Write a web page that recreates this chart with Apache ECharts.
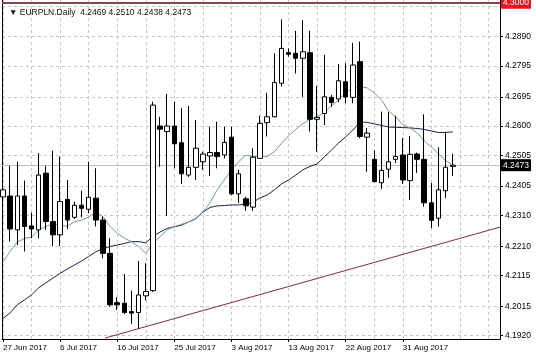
<!DOCTYPE html>
<html><head><meta charset="utf-8">
<script src="https://cdn.jsdelivr.net/npm/echarts@6/dist/echarts.min.js"></script>
<style>html,body{margin:0;padding:0;background:#fff}#c{width:536px;height:357px}</style>
</head><body><div id="c"></div>
<script>
const symbolName = 'EURPLN.Daily';
const dates = ['27 Jun 2017','28 Jun 2017','29 Jun 2017','30 Jun 2017','2 Jul 2017','3 Jul 2017','4 Jul 2017','5 Jul 2017','6 Jul 2017','7 Jul 2017',
'9 Jul 2017','10 Jul 2017','11 Jul 2017','12 Jul 2017','13 Jul 2017','14 Jul 2017','16 Jul 2017','17 Jul 2017','18 Jul 2017','19 Jul 2017',
'20 Jul 2017','21 Jul 2017','23 Jul 2017','24 Jul 2017','25 Jul 2017','26 Jul 2017','27 Jul 2017','28 Jul 2017','30 Jul 2017','31 Jul 2017',
'1 Aug 2017','2 Aug 2017','3 Aug 2017','4 Aug 2017','6 Aug 2017','7 Aug 2017','8 Aug 2017','9 Aug 2017','10 Aug 2017','11 Aug 2017',
'13 Aug 2017','14 Aug 2017','15 Aug 2017','16 Aug 2017','17 Aug 2017','18 Aug 2017','20 Aug 2017','21 Aug 2017','22 Aug 2017','23 Aug 2017',
'24 Aug 2017','25 Aug 2017','27 Aug 2017','28 Aug 2017','29 Aug 2017','30 Aug 2017','31 Aug 2017','1 Sep 2017','3 Sep 2017','4 Sep 2017',
'5 Sep 2017','6 Sep 2017','7 Sep 2017','8 Sep 2017'];
const opens = [4.2370,4.2373,4.2263,4.2373,4.2276,4.2263,4.2447,4.2290,4.2247,4.2362,
4.2304,4.2343,4.2330,4.2366,4.2295,4.2187,4.2027,4.2025,4.1998,4.1995,
4.2049,4.2066,4.2600,4.2582,4.2600,4.2546,4.2441,4.2466,4.2484,4.2503,
4.2514,4.2506,4.2564,4.2380,4.2364,4.2337,4.2495,4.2611,4.2630,4.2739,
4.2838,4.2836,4.2820,4.2838,4.2622,4.2641,4.2693,4.2688,4.2744,4.2693,
4.2809,4.2564,4.2492,4.2416,4.2460,4.2492,4.2506,4.2423,4.2509,4.2492,
4.2351,4.2301,4.2390,4.2469];
const closes = [4.2393,4.2266,4.2373,4.2274,4.2266,4.2441,4.2290,4.2247,4.2355,4.2295,
4.2343,4.2333,4.2369,4.2295,4.2187,4.2020,4.2020,4.1995,4.1993,4.2052,
4.2063,4.2668,4.2590,4.2600,4.2542,4.2445,4.2466,4.2528,4.2509,4.2514,
4.2501,4.2547,4.2380,4.2445,4.2341,4.2499,4.2609,4.2630,4.2741,4.2852,
4.2833,4.2820,4.2841,4.2622,4.2628,4.2695,4.2676,4.2747,4.2694,4.2798,
4.2566,4.2577,4.2420,4.2456,4.2484,4.2501,4.2425,4.2508,4.2492,4.2351,
4.2294,4.2393,4.2466,4.2473];
const lows = [4.2344,4.2225,4.2214,4.2193,4.2236,4.2236,4.2263,4.2211,4.2211,4.2265,
4.2298,4.2304,4.2317,4.2274,4.2171,4.2014,4.2003,4.1990,4.1958,4.1942,
4.2034,4.2062,4.2468,4.2308,4.2463,4.2412,4.2435,4.2425,4.2458,4.2438,
4.2463,4.2495,4.2375,4.2350,4.2325,4.2325,4.2495,4.2566,4.2628,4.2728,
4.2825,4.2771,4.2695,4.2582,4.2517,4.2603,4.2663,4.2678,4.2674,4.2674,
4.2560,4.2452,4.2416,4.2396,4.2432,4.2480,4.2412,4.2360,4.2448,4.2338,
4.2269,4.2274,4.2366,4.2438];
const highs = [4.2409,4.2471,4.2484,4.2423,4.2319,4.2512,4.2471,4.2520,4.2501,4.2425,
4.2355,4.2390,4.2484,4.2463,4.2306,4.2236,4.2045,4.2120,4.2066,4.2162,
4.2155,4.2679,4.2630,4.2704,4.2679,4.2658,4.2665,4.2620,4.2517,4.2598,
4.2614,4.2598,4.2598,4.2458,4.2371,4.2528,4.2633,4.2708,4.2836,4.2946,
4.2852,4.2909,4.2944,4.2909,4.2730,4.2831,4.2701,4.2801,4.2804,4.2870,
4.2874,4.2594,4.2521,4.2647,4.2646,4.2633,4.2561,4.2568,4.2514,4.2638,
4.2415,4.2531,4.2582,4.2510];
const maFast = [4.2159,4.2193,4.2224,4.2235,4.2240,4.2263,4.2274,4.2282,4.2279,4.2274,
4.2290,4.2294,4.2305,4.2321,4.2306,4.2274,4.2252,4.2236,4.2225,4.2209,
4.2187,4.2220,4.2241,4.2263,4.2274,4.2281,4.2289,4.2299,4.2322,4.2351,
4.2393,4.2425,4.2458,4.2484,4.2505,4.2501,4.2501,4.2501,4.2516,4.2544,
4.2568,4.2589,4.2608,4.2621,4.2629,4.2644,4.2665,4.2685,4.2709,4.2724,
4.2727,4.2724,4.2707,4.2685,4.2649,4.2630,4.2604,4.2594,4.2578,4.2552,
4.2532,4.2509,4.2488,4.2474];
const maSlow = [4.1976,4.1994,4.2020,4.2036,4.2052,4.2075,4.2091,4.2107,4.2122,4.2136,
4.2149,4.2162,4.2177,4.2192,4.2203,4.2209,4.2214,4.2219,4.2225,4.2225,
4.2221,4.2242,4.2256,4.2268,4.2273,4.2278,4.2289,4.2299,4.2321,4.2336,
4.2341,4.2342,4.2344,4.2344,4.2347,4.2352,4.2367,4.2376,4.2393,4.2412,
4.2425,4.2441,4.2458,4.2469,4.2477,4.2500,4.2522,4.2545,4.2565,4.2587,
4.2613,4.2612,4.2607,4.2602,4.2597,4.2596,4.2595,4.2594,4.2592,4.2589,
4.2584,4.2579,4.2579,4.2581];
const yTickLabels = [4.1920,4.2015,4.2115,4.2210,4.2310,4.2405,4.2505,4.2600,4.2695,4.2795,4.2890,4.2990];
const xLabelIdx = [0,8,16,24,32,40,48,56];
const levelLine = 4.3000;
const trendX = [14.3, 69.6];
const trendY = [4.1912, 4.2272];

const FONT = 'Liberation Sans';
const yMin = 4.1909, yMax = 4.3009;
const xMin = -0.14, xMax = 69.61;
const gridX = [];
for (let k = 0; k <= 68; k += 4) gridX.push(k);
const n = opens.length, last = n - 1;
const candleData = opens.map((o, i) => [i, o, closes[i], lows[i], highs[i]]);
const gridLine = {show: true, lineStyle: {color: '#c6c6c6', type: [3, 3], width: 1}};

const chart = echarts.init(document.getElementById('c'));
chart.setOption({
  animation: false,
  backgroundColor: '#ffffff',
  title: {
    text: '\u25BC ' + symbolName + '  ' + [opens[last], highs[last], lows[last], closes[last]].map(v => v.toFixed(4)).join(' '),
    left: 4, top: 3,
    textStyle: {fontFamily: FONT, fontSize: 8.5, fontWeight: 'normal', color: '#111'}
  },
  grid: {left: 2, right: 36, top: 0, bottom: 18},
  xAxis: [
    {type: 'value', min: xMin, max: xMax, position: 'bottom',
     axisLine: {show: true, onZero: false, lineStyle: {color: '#000', width: 1}},
     axisTick: {show: true, length: 3, customValues: xLabelIdx, lineStyle: {color: '#000'}},
     axisLabel: {customValues: xLabelIdx, formatter: v => dates[Math.round(v)], align: 'left', margin: 5,
                 fontFamily: FONT, fontSize: 8, color: '#000'},
     splitLine: {show: false}},
    {type: 'value', min: xMin, max: xMax, position: 'top',
     axisLine: {show: false, onZero: false}, axisTick: {show: false, customValues: gridX},
     axisLabel: {show: false}, splitLine: gridLine}
  ],
  yAxis: [
    {type: 'value', min: yMin, max: yMax, position: 'right',
     axisLine: {show: true, onZero: false, lineStyle: {color: '#000', width: 1}},
     axisTick: {show: true, length: 3, customValues: yTickLabels, lineStyle: {color: '#000'}},
     axisLabel: {customValues: yTickLabels, formatter: v => v.toFixed(4), margin: 5,
                 fontFamily: FONT, fontSize: 8.5, color: '#000'},
     splitLine: gridLine},
    {type: 'value', min: yMin, max: yMax, position: 'left',
     axisLine: {show: true, onZero: false, lineStyle: {color: '#000', width: 1}},
     axisTick: {show: false}, axisLabel: {show: false}, splitLine: {show: false}}
  ],
  series: [
    {type: 'line', name: 'trend', xAxisIndex: 0, yAxisIndex: 0, z: 2,
     data: [[trendX[0], trendY[0]], [trendX[1], trendY[1]]],
     symbol: 'none', lineStyle: {color: '#7d2e3a', width: 1},
     markLine: {
       symbol: 'none', silent: true, z: 1, animation: false, precision: 4,
       data: [
         {yAxis: closes[last], lineStyle: {color: '#c0c0c0', width: 1, type: 'solid'},
          label: {show: true, position: 'end', distance: 1, formatter: p => Number(p.value).toFixed(4),
                  backgroundColor: '#000', color: '#fff', padding: [2, 2, 1, 2],
                  fontFamily: FONT, fontSize: 8.5}},
         {yAxis: levelLine, lineStyle: {color: '#8e4450', width: 2, type: 'solid'},
          label: {show: true, position: 'end', distance: 1, formatter: p => Number(p.value).toFixed(4),
                  backgroundColor: '#e3161c', color: '#fff', padding: [2, 2, 1, 2],
                  fontFamily: FONT, fontSize: 8.5}}
       ]
     }},
    {type: 'line', name: 'MA slow', xAxisIndex: 0, yAxisIndex: 0, z: 3,
     data: maSlow.map((v, i) => [i, v]), symbol: 'none',
     lineStyle: {color: '#1c1f4e', width: 1}},
    {type: 'line', name: 'MA fast', xAxisIndex: 0, yAxisIndex: 0, z: 3,
     data: maFast.map((v, i) => [i, v]), symbol: 'none',
     lineStyle: {color: '#6d9ea2', width: 1}},
    {type: 'candlestick', name: symbolName, xAxisIndex: 0, yAxisIndex: 0, z: 4,
     dimensions: ['idx', 'open', 'close', 'lowest', 'highest'],
     encode: {x: 'idx', y: ['open', 'close', 'lowest', 'highest']},
     data: candleData, barWidth: 5,
     itemStyle: {color: '#ffffff', color0: '#000000', borderColor: '#000000', borderColor0: '#000000', borderWidth: 1}}
  ]
});
</script></body></html>
